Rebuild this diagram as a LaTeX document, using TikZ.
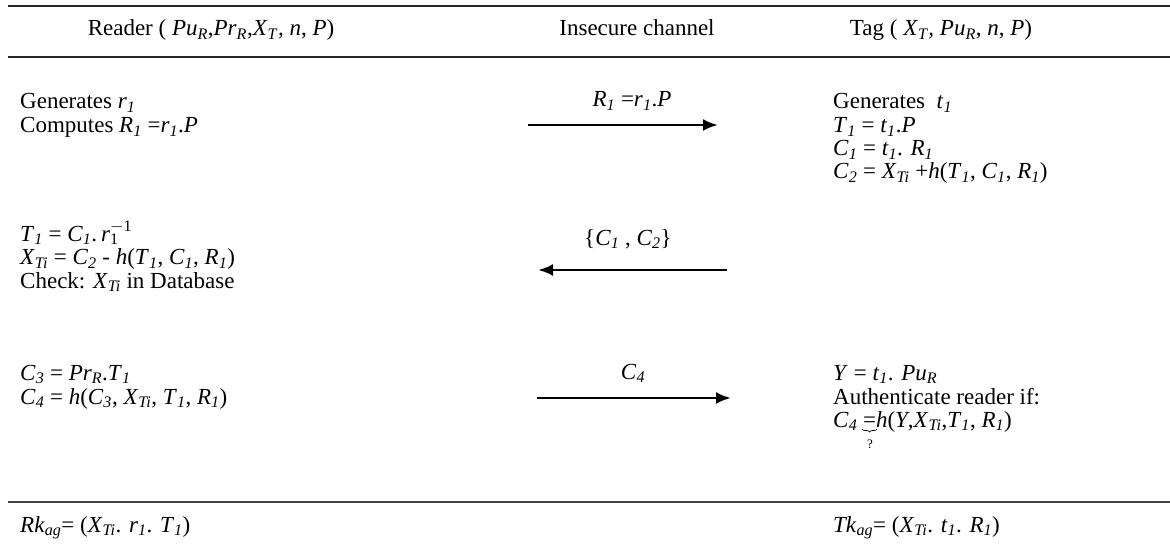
\documentclass[tikz,border=0pt]{standalone}
\usepackage{fontspec}
\setmainfont{Liberation Serif}
\usetikzlibrary{arrows.meta,decorations.pathreplacing}
\newcommand\I[1]{\textit{#1}}
\newcommand\s[2]{\textit{#1}\textsubscript{\textit{#2}}}
\begin{document}
\begin{tikzpicture}[x=1pt,y=-1pt,
  font=\fontsize{23}{24}\selectfont,
  rulebar/.style={line width=2pt, draw=black!85},
  txt/.style={anchor=west, inner sep=0pt, text height=17pt, text depth=5pt},
  hdr/.style={anchor=center, inner sep=0pt, text height=17pt, text depth=5pt},
  lbl/.style={anchor=center, inner sep=0pt, text height=17pt, text depth=5pt},
  msg/.style={-{Latex[length=15pt,width=12pt]}, line width=2.8pt}]
\useasboundingbox (0,0) rectangle (1170,548);
\fill[white] (0,0) rectangle (1170,548);
% rules
\draw[rulebar] (8,6) -- (1170,6);
\draw[rulebar] (8,57) -- (1170,57);
\draw[rulebar, line width=1.8pt, draw=black!75] (8,502) -- (1170,502);
% headers
\node[hdr] (hR) at (211,30) {Reader ( \s{Pu}{R},\s{Pr}{R},\s{X}{T}, \I{n}, \I{P})};
\node[hdr] (hC) at (637,30) {Insecure channel};
\node[hdr] (hT) at (941,30) {Tag ( \s{X}{T}, \s{Pu}{R}, \I{n}, \I{P})};
% reader column
\node[txt] (r1) at (20,103) {Generates \s{r}{1}};
\node[txt] (r2) at (20,127) {Computes \s{R}{1} =\s{r}{1}.\I{P}};
\node[txt] (r3) at (20,235) {\s{T}{1} = \s{C}{1}.\,\I{r}\rlap{\textsubscript{1}}\textsuperscript{$-$1}};
\node[txt] (r4) at (20,259) {\s{X}{Ti} = \s{C}{2} - \I{h}(\s{T}{1}, \s{C}{1}, \s{R}{1})};
\node[txt] (r5) at (20,282) {Check: \s{X}{Ti} in Database};
\node[txt] (r6) at (20,374) {\s{C}{3} = \s{Pr}{R}.\s{T}{1}};
\node[txt] (r7) at (20,398) {\s{C}{4} = \I{h}(\s{C}{3}, \s{X}{Ti}, \s{T}{1}, \s{R}{1})};
\node[txt] (r8) at (20,526) {\I{Rk}\textsubscript{\I{ag}}= (\s{X}{Ti}. \s{r}{1}. \s{T}{1})};
% tag column
\node[txt] (t1) at (833,103) {Generates\ \ \s{t}{1}};
\node[txt] (t2) at (833,127) {\s{T}{1} = \s{t}{1}.\I{P}};
\node[txt] (t3) at (833,150) {\s{C}{1} = \s{t}{1}. \s{R}{1}};
\node[txt] (t4) at (833,173) {\s{C}{2} = \s{X}{Ti} +\I{h}(\s{T}{1}, \s{C}{1}, \s{R}{1})};
\node[txt] (t5) at (833,374) {\I{Y} = \s{t}{1}. \s{Pu}{R}};
\node[txt] (t6) at (833,398) {Authenticate reader if:};
\node[txt] (t7) at (833,421) {\s{C}{4} =\I{h}(\I{Y},\s{X}{Ti},\s{T}{1}, \s{R}{1})};
\draw[decorate, decoration={brace, mirror, amplitude=3pt}, line width=0.7pt] (862,429) -- (877,429);
\node[anchor=center, inner sep=0pt, font=\fontsize{13}{13}\selectfont] (tq) at (870,444) {?};
\node[txt] (t8) at (833,526) {\I{Tk}\textsubscript{\I{ag}}= (\s{X}{Ti}. \s{t}{1}. \s{R}{1})};
% messages
\coordinate (m1a) at (528,125);
\coordinate (m1b) at (718,125);
\coordinate (m2a) at (727,270);
\coordinate (m2b) at (538,270);
\coordinate (m3a) at (537,398);
\coordinate (m3b) at (731,398);
\draw[msg] (m1a) -- (m1b);
\draw[msg] (m2a) -- (m2b);
\draw[msg] (m3a) -- (m3b);
\node[lbl] (l1) at (632,101) {\s{R}{1} =\s{r}{1}.\I{P}};
\node[lbl] (l2) at (628,239) {\{\s{C}{1} , \s{C}{2}\}};
\node[lbl] (l3) at (633,373) {\s{C}{4}};
\end{tikzpicture}
\end{document}
